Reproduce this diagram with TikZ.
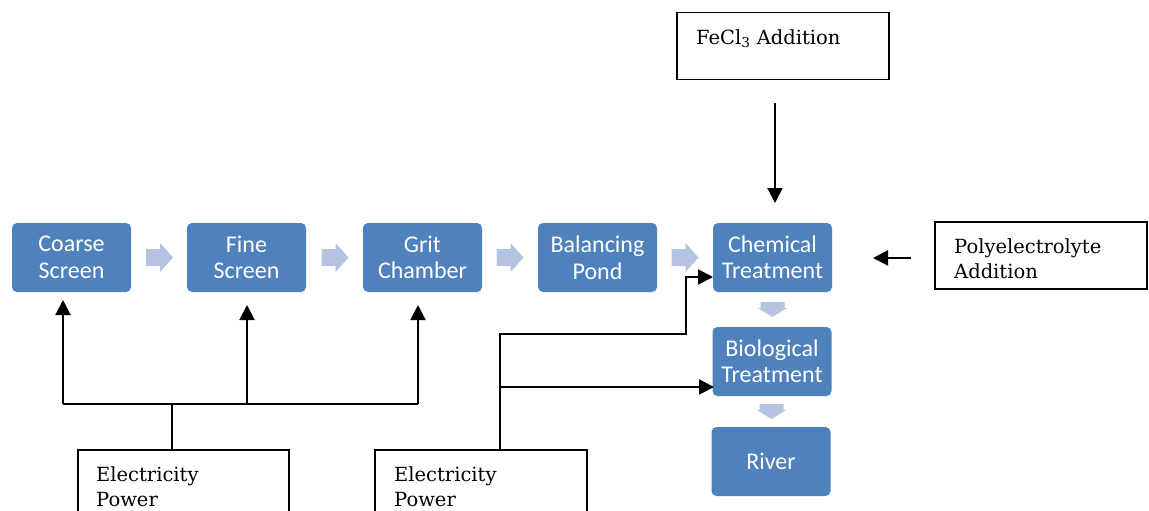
\documentclass[tikz,border=0pt]{standalone}
\usepackage{fontspec}
\setmainfont{DejaVu Serif}
\newfontfamily\carlito{Carlito}
\usetikzlibrary{arrows.meta}
\definecolor{boxblue}{RGB}{79,129,189}
\definecolor{flowblue}{RGB}{180,196,224}
\begin{document}
\begin{tikzpicture}[x=1pt,y=-1pt,
  proc/.style={rectangle, rounded corners=5pt, fill=boxblue, draw=none,
    minimum width=119pt, minimum height=69pt, inner sep=0pt, text=white,
    align=center, font=\carlito\fontsize{24}{26.5}\selectfont},
  note/.style={rectangle, draw=black, line width=1.5pt, minimum width=212pt,
    minimum height=67pt, anchor=north west, inner sep=0pt},
  notetext/.style={anchor=north west, inner sep=0pt, xshift=20pt, yshift=-17pt,
    align=left, font=\fontsize{19.5}{25}\selectfont},
  rflow/.pic={\fill[flowblue] (-13.5,-8.5) -- (0.5,-8.5) -- (0.5,-14.5) -- (13.5,0)
      -- (0.5,14.5) -- (0.5,8.5) -- (-13.5,8.5) -- cycle;},
  dflow/.pic={\fill[flowblue] (-12,-7.5) -- (12,-7.5) -- (12,-1.5) -- (14.5,-1.5)
      -- (0,7.5) -- (-14.5,-1.5) -- (-12,-1.5) -- cycle;},
  conn/.style={line width=2pt, -{Triangle[length=15pt,width=15pt]}},
  line/.style={line width=2pt}]
\useasboundingbox (0,0) rectangle (1149,511);

% process boxes
\node[proc] (cs) at (71.5,257.5) {Coarse\\Screen};
\node[proc] (fs) at (246.5,257.5) {Fine\\Screen};
\node[proc] (gc) at (422.5,257.5) {Grit\\Chamber};
\node[proc] (bp) at (597.5,257.5) {Balancing\\Pond};
\node[proc] (ct) at (772.5,257.5) {Chemical\\Treatment};
\node[proc] (bt) at (772,361.5) {Biological\\Treatment};
\node[proc] (rv) at (771,461.5) {River};

% flow arrows
\pic (f1) at (159.5,257.5) {rflow};
\pic (f2) at (335,257.5) {rflow};
\pic (f3) at (510,257.5) {rflow};
\pic (f4) at (685,257.5) {rflow};
\pic (f5) at (772.5,309.5) {dflow};
\pic (f6) at (771.5,411.5) {dflow};

% note boxes
\node[note, label={[notetext]north west:FeCl\textsubscript{3} Addition}] (fe) at (676,12) {};
\node[note, label={[notetext]north west:Polyelectrolyte\\Addition}] (pa) at (934,221) {};
\node[note, minimum width=211pt, minimum height=80pt, label={[notetext, xshift=-1pt]north west:Electricity\\Power}] (e1) at (77,449) {};
\node[note, minimum width=212pt, minimum height=80pt, label={[notetext]north west:Electricity\\Power}] (e2) at (374,449) {};

% FeCl3 and polyelectrolyte arrows
\coordinate (feA) at (775,103);
\coordinate (feB) at (775,203);
\draw[conn] (feA) -- (feB);
\coordinate (paA) at (911,258);
\coordinate (paB) at (873,258);
\draw[conn] (paA) -- (paB);

% left power tree
\coordinate (l0) at (172,449);
\coordinate (l1) at (172,404);
\coordinate (lL) at (63,404);
\coordinate (lM) at (247,404);
\coordinate (lR) at (418,404);
\coordinate (tL) at (63,300);
\coordinate (tM) at (247,305);
\coordinate (tR) at (418,305);
\draw[line] (l0) -- (l1);
\draw[line] (lL) -- (lR);
\draw[conn] (lL) -- (tL);
\draw[conn] (lM) -- (tM);
\draw[conn] (lR) -- (tR);

% right power tree
\coordinate (r0) at (500,449);
\coordinate (r1) at (500,334);
\coordinate (r2) at (686,334);
\coordinate (r3) at (686,277);
\coordinate (r4) at (713,277);
\coordinate (rB) at (500,387);
\coordinate (rC) at (714,387);
\draw[conn] (r0) -- (r1) -- (r2) -- (r3) -- (r4);
\draw[conn] (rB) -- (rC);
\end{tikzpicture}
\end{document}
